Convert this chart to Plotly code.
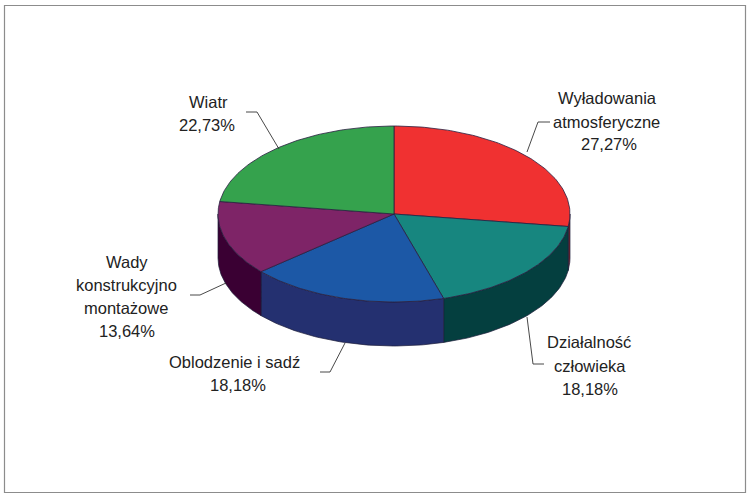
import numpy as np
import plotly.graph_objects as go

labels = ["Wyładowania atmosferyczne", "Działalność człowieka", "Oblodzenie i sadź",
          "Wady konstrukcyjno montażowe", "Wiatr"]
values = [27.27, 18.18, 18.18, 13.64, 22.73]
top_colors = ["#f03131", "#17867f", "#1c58a6", "#7e2467", "#35a24d"]
side_colors = ["#7a1f24", "#043f3f", "#243070", "#3a0033", "#1d5a2b"]

label_lines = [
    (607, 98, "Wyładowania"), (606, 122, "atmosferyczne"), (609, 144, "27,27%"),
    (589, 342, "Działalność"), (590, 366, "człowieka"), (590, 389, "18,18%"),
    (234, 362, "Oblodzenie i sadź"), (238, 385, "18,18%"),
    (127, 262, "Wady"), (126, 285, "konstrukcyjno"), (126, 308, "montażowe"), (127, 331, "13,64%"),
    (208, 102, "Wiatr"), (207, 125, "22,73%"),
]
leaders = [
    ([527, 538, 550], [152, 122, 122]),
    ([527, 533, 544], [317, 364, 364]),
    ([320, 330, 345], [372, 372, 343]),
    ([190, 200, 226], [295, 295, 283]),
    ([246, 257, 279], [112, 112, 149]),
]

CX, CY, RX, RY, DEPTH = 394, 214, 176, 88, 44

def ex(t):
    return CX + RX * np.sin(t)

def ey(t):
    return CY - RY * np.cos(t)

fig = go.Figure()
fracs = np.cumsum([0] + values) / sum(values) * 2 * np.pi

# side walls (only the part of each slice on the visible front half)
for i in range(len(values)):
    a, b = max(fracs[i], np.pi / 2), min(fracs[i + 1], 3 * np.pi / 2)
    if b <= a:
        continue
    t = np.linspace(a, b, 60)
    x = np.r_[ex(t), ex(t)[::-1], ex(t)[0]]
    y = np.r_[ey(t), ey(t)[::-1] + DEPTH, ey(t)[0]]
    fig.add_trace(go.Scatter(x=x, y=y, mode="lines", fill="toself", fillcolor=side_colors[i],
                             line=dict(color="#1c1c3a", width=0.7), hoverinfo="skip"))

# top faces
for i in range(len(values)):
    t = np.linspace(fracs[i], fracs[i + 1], 90)
    x = np.r_[CX, ex(t), CX]
    y = np.r_[CY, ey(t), CY]
    fig.add_trace(go.Scatter(x=x, y=y, mode="lines", fill="toself", fillcolor=top_colors[i],
                             line=dict(color="#2a2040", width=0.8), name=labels[i], hoverinfo="name"))

for lx, ly in leaders:
    fig.add_trace(go.Scatter(x=lx, y=ly, mode="lines", line=dict(color="#333333", width=0.9),
                             hoverinfo="skip"))

for x, y, s in label_lines:
    fig.add_annotation(x=x, y=y, text=s, showarrow=False, xanchor="center", yanchor="middle",
                       font=dict(family="Liberation Sans", size=16.5, color="#222222"))

fig.add_shape(type="rect", x0=4.5, y0=5.5, x1=745.5, y1=492.5,
              line=dict(color="#8c8c8c", width=1.2), layer="below")

fig.update_layout(width=749, height=498, margin=dict(l=0, r=0, t=0, b=0), showlegend=False,
                  paper_bgcolor="white", plot_bgcolor="white",
                  xaxis=dict(range=[0, 749], visible=False),
                  yaxis=dict(range=[498, 0], visible=False))
fig.write_html("out.html", config={"displayModeBar": False},
               post_script="document.body.style.margin='0';document.body.style.overflow='hidden';")
